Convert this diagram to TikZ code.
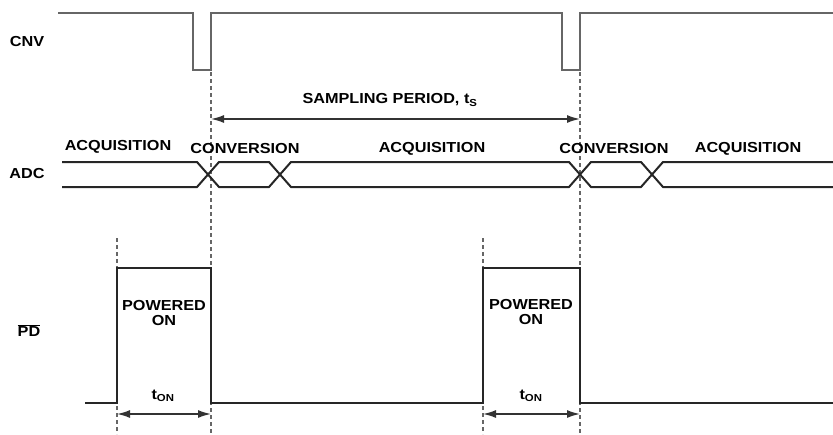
\documentclass[tikz,border=0pt]{standalone}
\usepackage{fontspec}
\setmainfont{Liberation Sans}
\newfontfamily\diagfont{Liberation Sans}[FakeStretch=1.12]
\usepackage{tikz}
\usetikzlibrary{arrows.meta,positioning}

\begin{document}
\begin{tikzpicture}[
    x=1pt, y=-1pt,
    lbl/.style={font=\diagfont\fontsize{14.5}{15}\selectfont\bfseries, inner sep=0pt},
    sig/.style={line width=2pt, black!85},
    cnvsig/.style={line width=2.8pt, black!60},
    guide/.style={line width=1.3pt, black!60, dash pattern=on 4pt off 3pt},
    span/.style={{Latex[length=13pt,width=8pt]}-{Latex[length=13pt,width=8pt]}, line width=1.6pt, black!80}
]
\useasboundingbox (0,0) rectangle (833,434);

% Guides
\draw[guide] (211,72) -- (211,434);
\draw[guide] (580,72) -- (580,434);
\draw[guide] (117,238) -- (117,434);
\draw[guide] (483,238) -- (483,434);

% CNV
\node[lbl] (cnv) at (27,42) {CNV};
\draw[cnvsig] (58,13) -- (193,13) -- (193,70) -- (211,70) -- (211,13)
    -- (562,13) -- (562,70) -- (580,70) -- (580,13) -- (833,13);

% Sampling period
\coordinate (sp1) at (211,119);
\coordinate (sp2) at (580,119);
\draw[span] (sp1) -- (sp2);
\node[lbl] (period) at (390,100) {SAMPLING PERIOD, t\textsubscript{S}};

% ADC
\node[lbl] (adc) at (27,174) {ADC};
\draw[sig] (62,162) -- (197,162) -- (219,187) -- (269,187) -- (291,162)
    -- (569,162) -- (591,187) -- (641,187) -- (663,162) -- (833,162);
\draw[sig] (62,187) -- (197,187) -- (219,162) -- (269,162) -- (291,187)
    -- (569,187) -- (591,162) -- (641,162) -- (663,187) -- (833,187);
\node[lbl] (acq1) at (118,147) {ACQUISITION};
\node[lbl] (conv1) at (245,149) {CONVERSION};
\node[lbl] (acq2) at (432,149) {ACQUISITION};
\node[lbl] (conv2) at (614,149) {CONVERSION};
\node[lbl] (acq3) at (748,149) {ACQUISITION};

% PD
\node[lbl] (pd) at (29,331) {$\overline{\mbox{\diagfont\bfseries PD}}$};
\draw[sig] (85,403) -- (117,403) -- (117,268) -- (211,268) -- (211,403)
    -- (483,403) -- (483,268) -- (580,268) -- (580,403) -- (833,403);
\node[lbl, align=center] (pow1) at (164,313) {POWERED\\ON};
\node[lbl, align=center] (pow2) at (531,312) {POWERED\\ON};

% t_ON
\coordinate (on1a) at (117,414);
\coordinate (on1b) at (211,414);
\coordinate (on2a) at (483,414);
\coordinate (on2b) at (580,414);
\draw[span] (on1a) -- (on1b);
\draw[span] (on2a) -- (on2b);
\node[lbl] (ton1) at (163,396) {t\textsubscript{ON}};
\node[lbl] (ton2) at (531,396) {t\textsubscript{ON}};

\end{tikzpicture}
\end{document}
